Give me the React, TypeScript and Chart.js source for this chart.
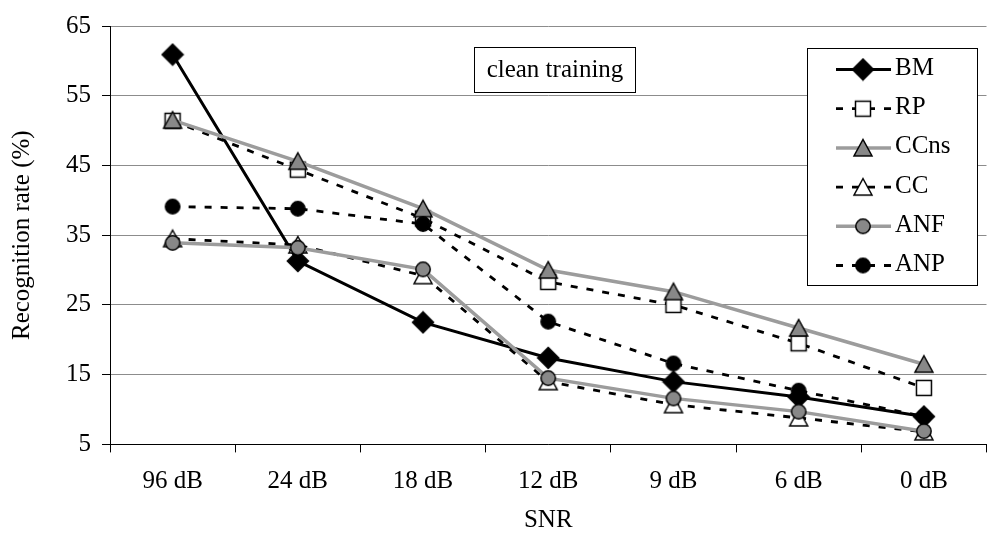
import React, { useEffect, useRef } from 'react';
import { Chart, registerables } from 'chart.js';

Chart.register(...registerables);

const categories = ['96 dB', '24 dB', '18 dB', '12 dB', '9 dB', '6 dB', '0 dB'];
const seriesNames = ['BM', 'RP', 'CCns', 'CC', 'ANF', 'ANP'];
const bmValues = [60.9, 31.3, 22.5, 17.4, 14.0, 11.8, 9.0];
const rpValues = [51.4, 44.4, 37.4, 28.3, 25.0, 19.5, 13.1];
const ccnsValues = [51.5, 45.6, 38.8, 30.0, 26.9, 21.7, 16.5];
const ccValues = [34.5, 33.6, 29.2, 14.0, 10.7, 8.8, 6.8];
const anfValues = [33.9, 33.2, 30.1, 14.5, 11.6, 9.7, 6.9];
const anpValues = [39.1, 38.8, 36.6, 22.6, 16.6, 12.7, 9.0];
const yMin = 5;
const yMax = 65;
const yStep = 10;
const xTitle = 'SNR';
const yTitle = 'Recognition rate (%)';
const annotationText = 'clean training';

const FONT = '"Liberation Serif", "Times New Roman", serif';
const GRAY_LINE = '#9c9c9c';
const GRAY_FILL = '#888888';

type Kind = 'diamond' | 'square' | 'triangle' | 'circle';

function makeMarker(kind: Kind, fill: string): HTMLCanvasElement {
  const s = 24;
  const c = document.createElement('canvas');
  c.width = s;
  c.height = s;
  const ctx = c.getContext('2d')!;
  const m = s / 2;
  ctx.fillStyle = fill;
  ctx.strokeStyle = '#000';
  ctx.lineWidth = 1.5;
  ctx.beginPath();
  if (kind === 'diamond') {
    ctx.moveTo(m, m - 10.5);
    ctx.lineTo(m + 10.5, m);
    ctx.lineTo(m, m + 10.5);
    ctx.lineTo(m - 10.5, m);
  } else if (kind === 'square') {
    ctx.rect(m - 7.5, m - 7.5, 15, 15);
  } else if (kind === 'triangle') {
    ctx.moveTo(m, m - 8.5);
    ctx.lineTo(m + 9, m + 8);
    ctx.lineTo(m - 9, m + 8);
  } else {
    ctx.arc(m, m, 7.2, 0, Math.PI * 2);
  }
  ctx.closePath();
  ctx.fill();
  ctx.stroke();
  return c;
}

export default function App() {
  const ref = useRef<HTMLCanvasElement | null>(null);

  useEffect(() => {
    if (!ref.current) return;
    const markers = [
      makeMarker('diamond', '#000'),
      makeMarker('square', '#fff'),
      makeMarker('triangle', GRAY_FILL),
      makeMarker('triangle', '#fff'),
      makeMarker('circle', GRAY_FILL),
      makeMarker('circle', '#000'),
    ];
    const values = [bmValues, rpValues, ccnsValues, ccValues, anfValues, anpValues];
    const colors = ['#000', '#000', GRAY_LINE, '#000', GRAY_LINE, '#000'];
    const widths = [3, 2.8, 3.5, 2.8, 3.5, 2.8];
    const dashes: number[][] = [[], [7, 9], [], [7, 9], [], [7, 9]];

    const datasets = seriesNames.map((name, i) => ({
      label: name,
      data: values[i],
      borderColor: colors[i],
      backgroundColor: colors[i],
      borderWidth: widths[i],
      borderDash: dashes[i],
      pointStyle: markers[i] as any,
      pointRadius: 10,
      tension: 0,
      fill: false,
      order: seriesNames.length - 1 - i,
    }));

    const overlay = {
      id: 'overlay',
      afterDatasetsDraw(chart: any) {
        const ctx = chart.ctx as CanvasRenderingContext2D;
        ctx.save();
        ctx.fillStyle = '#fff';
        ctx.strokeStyle = '#000';
        ctx.lineWidth = 1;
        ctx.fillRect(474.5, 47.5, 161, 45);
        ctx.strokeRect(474.5, 47.5, 161, 45);
        ctx.fillStyle = '#000';
        ctx.font = `25px ${FONT}`;
        ctx.textAlign = 'center';
        ctx.textBaseline = 'middle';
        ctx.fillText(annotationText, 555, 70);

        ctx.fillStyle = '#fff';
        ctx.fillRect(807.5, 48.5, 170, 237);
        ctx.strokeStyle = '#000';
        ctx.lineWidth = 1;
        ctx.strokeRect(807.5, 48.5, 170, 237);
        seriesNames.forEach((name, i) => {
          const y = 69.5 + i * 39.2;
          ctx.save();
          ctx.strokeStyle = colors[i];
          ctx.lineWidth = widths[i];
          ctx.setLineDash(dashes[i]);
          ctx.beginPath();
          ctx.moveTo(836, y);
          ctx.lineTo(891, y);
          ctx.stroke();
          ctx.restore();
          ctx.drawImage(markers[i], 863 - 12, y - 12);
          ctx.fillStyle = '#000';
          ctx.font = `25px ${FONT}`;
          ctx.textAlign = 'left';
          ctx.textBaseline = 'middle';
          ctx.fillText(name, 895, y - 1);
        });
        ctx.restore();
      },
    };

    const chart = new Chart(ref.current, {
      type: 'line',
      data: { labels: categories, datasets: datasets as any },
      options: {
        responsive: false,
        animation: false,
        events: [],
        layout: { padding: { left: 0, right: 2, top: 17.8, bottom: 0 } },
        plugins: {
          legend: { display: false },
          tooltip: { enabled: false },
        },
        scales: {
          x: {
            type: 'category',
            offset: true,
            afterFit: (s: any) => {
              s.height = 539 - 444.4;
            },
            grid: {
              offset: true,
              drawOnChartArea: false,
              drawTicks: true,
              tickLength: 8,
              tickColor: '#000',
              tickWidth: 1,
            },
            border: { color: '#000', width: 1 },
            ticks: {
              color: '#000',
              padding: 14,
              font: { family: FONT, size: 25 },
              maxRotation: 0,
              autoSkip: false,
            },
            title: {
              display: true,
              text: xTitle,
              color: '#000',
              font: { family: FONT, size: 25 },
              padding: { top: 0, bottom: 4 },
            },
          },
          y: {
            min: yMin,
            max: yMax,
            afterFit: (s: any) => {
              s.width = 110;
            },
            grid: {
              color: '#8c8c8c',
              lineWidth: 1,
              drawTicks: true,
              tickLength: 8,
              tickColor: '#000',
              tickWidth: 1,
            },
            border: { color: '#000', width: 1 },
            ticks: {
              stepSize: yStep,
              color: '#000',
              padding: 11,
              font: { family: FONT, size: 25 },
            },
            title: {
              display: true,
              text: yTitle,
              color: '#000',
              font: { family: FONT, size: 25 },
              padding: { top: 7, bottom: 0 },
            },
          },
        },
      },
      plugins: [overlay],
    });
    return () => chart.destroy();
  }, []);

  return (
    <div
      style={{
        position: 'fixed',
        left: 0,
        top: 0,
        width: 989,
        height: 539,
        overflow: 'hidden',
        background: '#fff',
      }}
    >
      <canvas ref={ref} width={1000} height={539} style={{ display: 'block' }} />
    </div>
  );
}
